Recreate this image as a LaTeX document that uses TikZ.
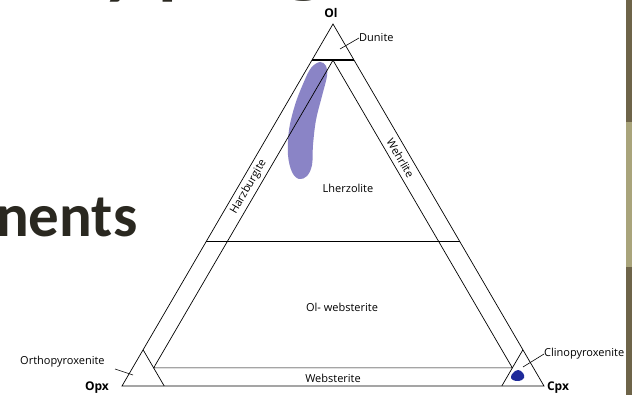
\documentclass[tikz,border=0pt]{standalone}
\usepackage{fontspec}
\setmainfont{Open Sans}
\newfontfamily\slidefont{Carlito}
\definecolor{lav}{HTML}{8A84C6}
\definecolor{dblue}{HTML}{1F2A9A}
\definecolor{stripdark}{HTML}{6E6449}
\definecolor{striplight}{HTML}{A9A47B}
\definecolor{slidetext}{HTML}{2A2820}
\tikzset{
  lbl/.style={font=\fontsize{11}{12}\selectfont, inner sep=0pt},
  vtx/.style={font=\fontsize{12}{13}\selectfont\bfseries, inner sep=0pt},
  edge/.style={line width=0.7pt, black},
  leader/.style={line width=0.6pt, black},
  frag/.style={font=\slidefont\fontsize{110}{110}\selectfont, text=slidetext, inner sep=0pt, anchor=base west}
}
\begin{document}
\begin{tikzpicture}[x=1pt,y=-1pt]
\useasboundingbox (0,0) rectangle (632,395);
\clip (0,0) rectangle (632,395);
\fill[white] (0,0) rectangle (632,395);
% right strip
\fill[stripdark] (626,0) rectangle (632,122);
\fill[striplight] (626,122) rectangle (632,267);
\fill[stripdark] (626,267) rectangle (632,395);
% slide title fragments
\node[frag] (fy) at (98,-15) {y};
\node[frag] (fp) at (155,-15) {p};
\node[frag] (fg) at (278,-17) {g};
\node[font=\slidefont\bfseries\fontsize{61}{61}\selectfont, text=slidetext, inner sep=0pt, anchor=base west] (nents) at (-4,237) {nents};
% triangle vertices
\coordinate (Ol) at (333,24);
\coordinate (Opx) at (122,386);
\coordinate (Cpx) at (544,386);
% field points
\coordinate (d1) at (barycentric cs:Ol=0.9,Opx=0.1,Cpx=0);
\coordinate (d2) at (barycentric cs:Ol=0.9,Opx=0,Cpx=0.1);
\coordinate (t) at (barycentric cs:Ol=0.9,Opx=0.05,Cpx=0.05);
\coordinate (hb) at (barycentric cs:Ol=0.05,Opx=0.9,Cpx=0.05);
\coordinate (wb) at (barycentric cs:Ol=0.05,Opx=0.05,Cpx=0.9);
\coordinate (l1) at (barycentric cs:Ol=0.4,Opx=0.6,Cpx=0);
\coordinate (l2) at (barycentric cs:Ol=0.4,Opx=0,Cpx=0.6);
\coordinate (o1) at (barycentric cs:Ol=0.1,Opx=0.9,Cpx=0);
\coordinate (o2) at (barycentric cs:Ol=0,Opx=0.9,Cpx=0.1);
\coordinate (c1) at (barycentric cs:Ol=0.1,Opx=0,Cpx=0.9);
\coordinate (c2) at (barycentric cs:Ol=0,Opx=0.1,Cpx=0.9);
% lavender field
\fill[lav] plot[smooth cycle, tension=0.6] coordinates {(320,62) (326,66) (327,76) (322,96) (316,120) (313,145) (312,165) (307,176) (299,179) (292,172) (288,155) (289,130) (295,105) (303,84) (311,68)};
% clinopyroxenite blob
\fill[dblue] plot[smooth cycle, tension=0.7] coordinates {(513,373) (518,370) (523,373) (524,378) (519,381) (513,380) (511,377)};
% lines
\draw[edge] (Ol) -- (Opx) -- (Cpx) -- cycle;
\draw[line width=1.4pt] (d1) -- (d2);
\draw[edge] (t) -- (hb) -- (wb) -- (t);
\draw[edge] (l1) -- (l2);
\draw[edge] (o1) -- (o2);
\draw[edge] (c1) -- (c2);
% labels
\node[vtx] (lOl) at (331,13) {Ol};
\node[vtx] (lOpx) at (97,388) {Opx};
\node[vtx] (lCpx) at (558,388) {Cpx};
\node[lbl, anchor=west] (dun) at (359,38) {Dunite};
\coordinate (dunA) at (340,49);
\draw[leader] (dunA) -- (dun.west);
\node[lbl] (lherz) at (348,188) {Lherzolite};
\node[lbl] (olweb) at (342,307) {Ol- websterite};
\node[lbl] (web) at (333,378) {Websterite};
\node[lbl, rotate=59.76] (harz) at (barycentric cs:Ol=0.55,Opx=0.425,Cpx=0.025) {Harzburgite};
\node[lbl, rotate=-59.76] (wehr) at (barycentric cs:Ol=0.63,Opx=0.025,Cpx=0.345) {Wehrlite};
\node[lbl, anchor=west] (ortho) at (20,362) {Orthopyroxenite};
\coordinate (orthoA) at (133,375);
\draw[leader] (115,369) -- (orthoA);
\node[lbl, anchor=west] (clino) at (544,354) {Clinopyroxenite};
\coordinate (clinoA) at (523,367);
\draw[leader] (clinoA) -- (clino.west);
\end{tikzpicture}
\end{document}
